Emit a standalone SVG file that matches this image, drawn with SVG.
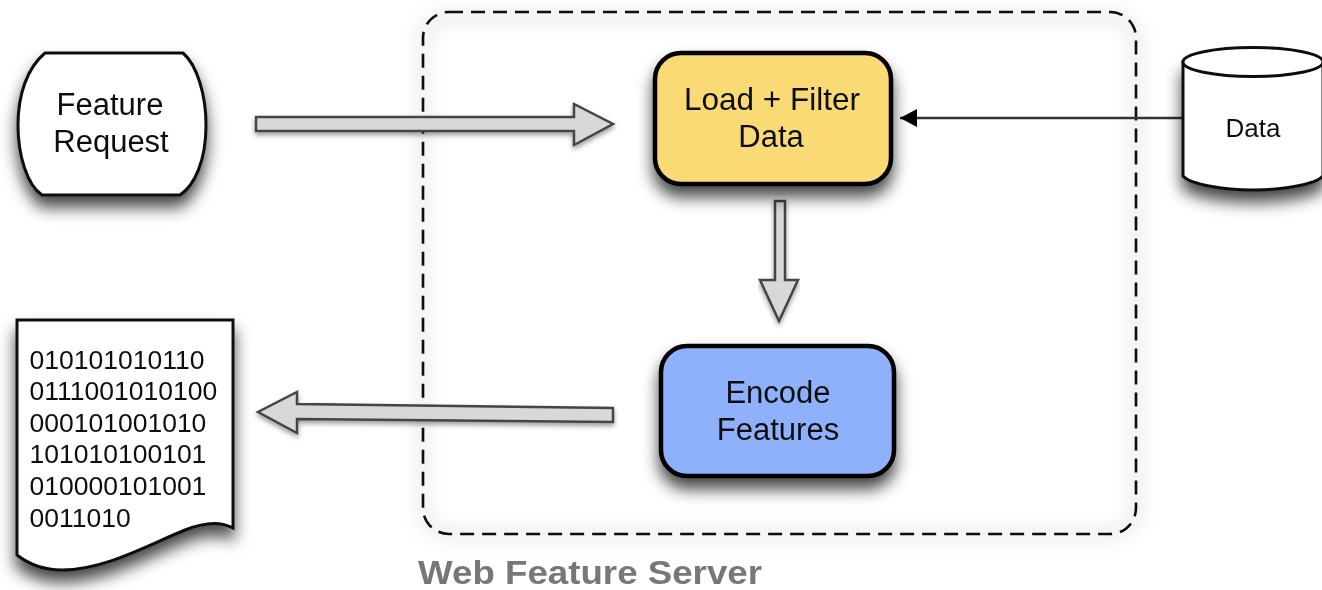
<svg xmlns="http://www.w3.org/2000/svg" width="1322" height="590" viewBox="0 0 1322 590">
<style>
text{font-family:"Liberation Sans",Arial,sans-serif;fill:#111;text-anchor:middle}
.big{font-size:31px}
.wide{font-size:31.500px}
.bin{font-size:26.500px;text-anchor:start}
.box{stroke:#000;stroke-width:4.5}
.out{fill:#fff;stroke:#111;stroke-width:3}
.fat{fill:#d8d8d8;stroke:#444;stroke-width:2.5;stroke-linejoin:miter}
.s{filter:url(#shadow)}
.t{filter:url(#thin)}
</style>
<defs>
<filter id="shadow" x="-25%" y="-25%" width="150%" height="170%"><feDropShadow dx="0" dy="11" stdDeviation="8" flood-color="#000" flood-opacity=".72"/></filter>
<filter id="thin" x="-5%" y="-20%" width="110%" height="160%"><feDropShadow dx="0" dy="3" stdDeviation="2.500" flood-color="#000" flood-opacity=".38"/></filter>
<filter id="soft" x="-5%" y="-5%" width="110%" height="110%"><feGaussianBlur stdDeviation="9"/></filter>
<filter id="sharp" filterUnits="userSpaceOnUse" x="0" y="0" width="1322" height="590"><feGaussianBlur stdDeviation=".7"/></filter>
<marker id="solid" markerUnits="userSpaceOnUse" markerWidth="18" markerHeight="20" refX="17" refY="9" orient="auto"><path d="M0 0L17 9L0 18Z" fill="#000"/></marker>
</defs>
<rect width="1322" height="590" fill="#fff"/>
<g filter="url(#sharp)">
<g id="server">
<rect x="423" y="17" width="713" height="517" rx="26" fill="none" stroke="#000" stroke-opacity=".07" stroke-width="14" filter="url(#soft)"/>
<rect x="423" y="12" width="713" height="522" rx="26" fill="none" stroke="#111" stroke-width="2.600" stroke-dasharray="14 8"/>
<text x="590" y="584" font-size="34" font-weight="700" textLength="344" lengthAdjust="spacingAndGlyphs" style="fill:#777">Web Feature Server</text>
</g>
<g id="connectors">
<path class="fat t" d="M256 117H574V104L613 124L574 145V131H256Z"/>
<path class="fat t" d="M775 201H785V280H798L779 321L760 280H775Z"/>
<path class="fat t" d="M613 408V422L297 419V433L258 412L297 392V404Z"/>
<path d="M1183 118H900" fill="none" stroke="#333" stroke-width="2.400" marker-end="url(#solid)"/>
</g>
<g id="feature-request">
<path class="out s" d="M45 53H183C197 65 206 95 206 125C206 160 195 185 180 195H42C27 185 18 155 18 125C18 95 27 68 45 53Z"/>
<text class="big" x="110" y="115">Feature</text>
<text class="big" x="111" y="152">Request</text>
</g>
<g id="load-filter">
<rect class="box s" x="655" y="53" width="236" height="131" rx="26" fill="#f9da74"/>
<text class="wide" x="772" y="110">Load + Filter</text>
<text class="big" x="771" y="147">Data</text>
</g>
<g id="encode">
<rect class="box s" x="661" y="346" width="233" height="130" rx="26" fill="#8fb0fb"/>
<text class="big" x="778" y="403">Encode</text>
<text class="big" x="778" y="440">Features</text>
</g>
<g id="data">
<path class="out s" d="M1183 62V176C1190 184 1222 190 1253 190C1284 190 1316 184 1323 176V62Z"/>
<ellipse cx="1253" cy="62" rx="70" ry="14.500" fill="#fff" stroke="#111" stroke-width="3"/>
<text x="1253" y="137" font-size="26">Data</text>
</g>
<g id="document">
<path class="out s" d="M17 320H233V528C222 522 205 522 185 530C150 544 105 570 62 570C42 570 26 562 17 555Z"/>
<text class="bin" x="29.500" y="369">010101010110</text>
<text class="bin" x="29.500" y="400">0111001010100</text>
<text class="bin" x="29.500" y="432">000101001010</text>
<text class="bin" x="29.500" y="463">101010100101</text>
<text class="bin" x="29.500" y="495">010000101001</text>
<text class="bin" x="29.500" y="527">0011010</text>
</g>
</g>
</svg>
